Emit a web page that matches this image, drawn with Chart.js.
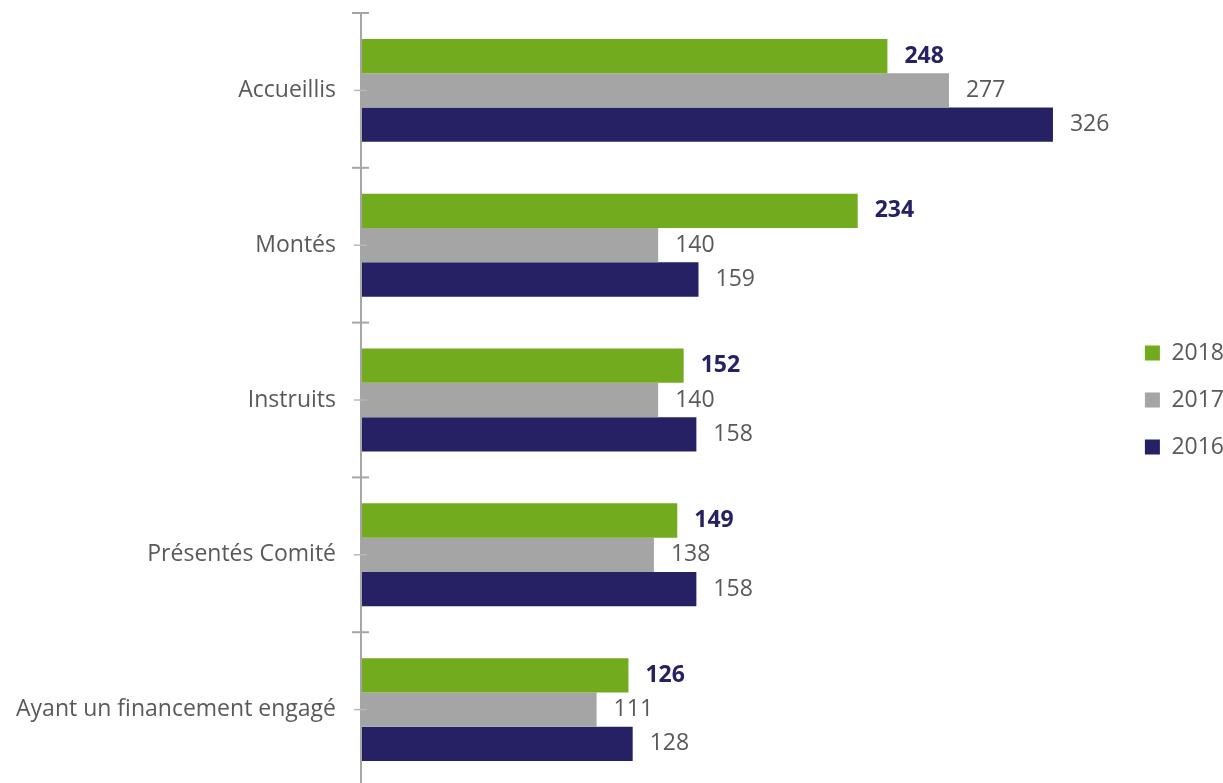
<!DOCTYPE html>
<html>
<head>
<meta charset="utf-8">
<script src="https://cdn.jsdelivr.net/npm/chart.js@4"></script>
<style>
  html, body { margin: 0; padding: 0; background: #fff; overflow: hidden; }
  #wrap { width: 1223px; height: 787px; position: relative; }
</style>
</head>
<body>
<div id="wrap"><canvas id="chart"></canvas></div>
<script>
const categories = [
  "Accueillis",
  "Montés",
  "Instruits",
  "Présentés Comité",
  "Ayant un financement engagé",
];
const years = ["2018", "2017", "2016"];
const values2018 = [248, 234, 152, 149, 126];
const values2017 = [277, 140, 140, 138, 111];
const values2016 = [326, 159, 158, 158, 128];

const FONT = "'Open Sans', sans-serif";
const GREEN = "#72ab1e";
const GRAY = "#a5a5a5";
const NAVY = "#262064";
const TEXT = "#595959";

// value labels to the right of the bars
const barLabels = {
  id: "barLabels",
  afterDatasetsDraw(chart) {
    const c = chart.ctx;
    c.save();
    c.textAlign = "left";
    c.textBaseline = "middle";
    chart.data.datasets.forEach((ds, i) => {
      chart.getDatasetMeta(i).data.forEach((bar, j) => {
        if (i === 0) {
          c.font = "bold 23px " + FONT;
          c.fillStyle = NAVY;
        } else {
          c.font = "23px " + FONT;
          c.fillStyle = TEXT;
        }
        c.fillText(ds.data[j], bar.x + 17, bar.y);
      });
    });
    c.restore();
  },
};

// axis line with boundary and centre ticks
const axisTicks = {
  id: "axisTicks",
  afterDraw(chart) {
    const c = chart.ctx;
    const y = chart.scales.y;
    const x0 = chart.chartArea.left;
    c.save();
    c.strokeStyle = "#a6a6a6";
    c.lineWidth = 2;
    c.beginPath();
    c.moveTo(x0, chart.chartArea.top);
    c.lineTo(x0, chart.chartArea.bottom);
    c.stroke();
    const n = categories.length;
    for (let i = 0; i <= n; i++) {
      const yy = i < n ? y.getPixelForValue(i) - y._length / n / 2 : chart.chartArea.bottom;
      c.beginPath();
      c.moveTo(x0 - 9, yy);
      c.lineTo(x0 + 8, yy);
      c.stroke();
    }
    c.strokeStyle = "#b8b8b8";
    c.lineWidth = 1.5;
    for (let i = 0; i < n; i++) {
      const yy = y.getPixelForValue(i);
      c.beginPath();
      c.moveTo(x0 - 7, yy);
      c.lineTo(x0 + 6, yy);
      c.stroke();
    }
    c.restore();
  },
};

const ctx = document.querySelector("#chart").getContext("2d");

new Chart(ctx, {
  type: "bar",
  data: {
    labels: categories,
    datasets: [
      { label: years[0], data: values2018, backgroundColor: GREEN },
      { label: years[1], data: values2017, backgroundColor: GRAY },
      { label: years[2], data: values2016, backgroundColor: NAVY },
    ],
  },
  options: {
    indexAxis: "y",
    responsive: true,
    maintainAspectRatio: false,
    animation: false,
    layout: { padding: { top: 13, bottom: 0, left: 0, right: -11 } },
    datasets: {
      bar: { categoryPercentage: 0.665, barPercentage: 1.0 },
    },
    scales: {
      x: {
        display: false,
        min: 0,
        max: 358,
      },
      y: {
        grid: { display: false, drawTicks: false },
        border: { display: false },
        ticks: {
          padding: 25,
          color: TEXT,
          font: { family: FONT, size: 23 },
        },
        afterFit(scale) {
          scale.width = 361;
          scale.paddingTop = 0;
          scale.paddingBottom = 0;
        },
      },
    },
    plugins: {
      legend: {
        position: "right",
        align: "center",
        labels: {
          boxWidth: 15,
          boxHeight: 15,
          padding: 24,
          color: TEXT,
          font: { family: FONT, size: 23 },
        },
      },
      tooltip: { enabled: false },
    },
  },
  plugins: [barLabels, axisTicks],
});
</script>
</body>
</html>
